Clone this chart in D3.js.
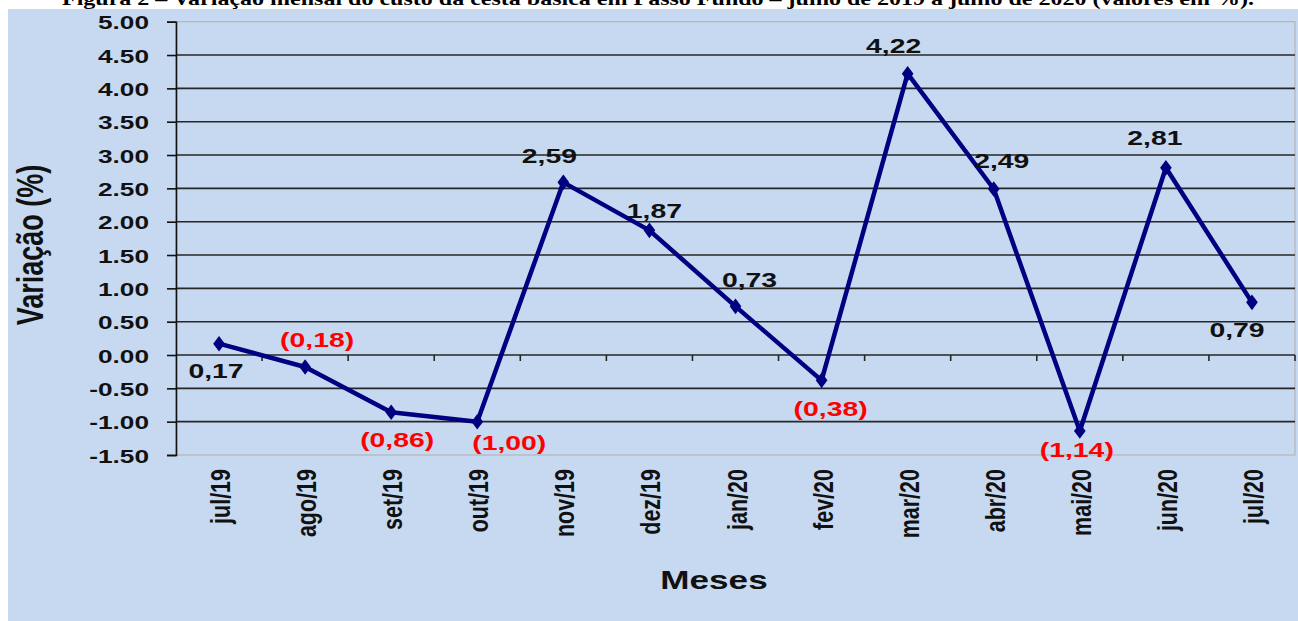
<!DOCTYPE html>
<html>
<head>
<meta charset="utf-8">
<style>
  body { margin: 0; background: #fff; overflow: hidden; }
  svg { display: block; font-family: "Liberation Sans", Arial, sans-serif; }
</style>
<title>Variação mensal</title>
</head>
<body>
<script src="https://cdn.jsdelivr.net/npm/d3@7"></script>
<script>

// dados
var months = ["jul/19","ago/19","set/19","out/19","nov/19","dez/19","jan/20","fev/20","mar/20","abr/20","mai/20","jun/20","jul/20"]
var values = [0.17, -0.18, -0.86, -1.00, 2.59, 1.87, 0.73, -0.38, 4.22, 2.49, -1.14, 2.81, 0.79]
var yTicks = [5.00, 4.50, 4.00, 3.50, 3.00, 2.50, 2.00, 1.50, 1.00, 0.50, 0.00, -0.50, -1.00, -1.50]

// deslocamento dos rótulos (layout, em px relativos ao ponto)
var labelNudge = [[-3,34],[12,-20],[6,35],[32,28],[-14,-19],[5,-12],[14,-19],[9,36],[-14,-21],[8,-21],[-3,26],[-11,-23],[-15,35]]

var W = 1298, H = 621
var plotL = 176, plotR = 1295, plotT = 21.7, plotB = 455
var sx = 1.35   // o original está esticado na horizontal

var svg = d3.select("body").append("svg").attr("width", W).attr("height", H)

// fundo azul
svg.append("rect").attr("x", 8).attr("y", 9).attr("width", W - 8).attr("height", H - 9).attr("fill", "#c6d9f0")

// título cortado no topo
svg.append("text")
  .attr("x", 658).attr("y", 5)
  .attr("text-anchor", "middle")
  .attr("textLength", 1192).attr("lengthAdjust", "spacingAndGlyphs")
  .style("font-family", "'Liberation Serif', 'Times New Roman', serif")
  .style("font-weight", "bold").style("font-size", "18px")
  .text("Figura 2 – Variação mensal do custo da cesta básica em Passo Fundo – julho de 2019 a julho de 2020 (valores em %).")

var x = d3.scaleBand().domain(months).range([plotL, plotR]).padding(0)
var y = d3.scaleLinear().domain([-1.5, 5]).range([plotB, plotT])
var cx = d => x(d) + x.bandwidth() / 2

// borda da área de plotagem
svg.append("rect")
  .attr("x", plotL).attr("y", plotT).attr("width", plotR - plotL).attr("height", plotB - plotT)
  .attr("fill", "none").attr("stroke", "#b4b4b4").attr("stroke-width", 1.2)

// linhas de grade
svg.append("g").selectAll("line")
  .data(yTicks.filter(t => t < 5 && t > -1.5))
  .enter().append("line")
    .attr("x1", plotL).attr("x2", plotR)
    .attr("y1", d => y(d)).attr("y2", d => y(d))
    .attr("stroke", "#262626").attr("stroke-width", 1.6)

// eixo Y
var yAxis = svg.append("g")
  .attr("transform", "translate(" + plotL + ",0)")
  .call(d3.axisLeft(y).tickValues(yTicks).tickSize(9).tickFormat(d => d.toFixed(2)))
yAxis.select(".domain").attr("stroke", "#111").attr("stroke-width", 1.6)
yAxis.selectAll(".tick line").attr("stroke", "#111").attr("stroke-width", 1.6)
yAxis.selectAll(".tick text")
  .attr("x", null).attr("dy", null)
  .attr("transform", "translate(-27,7) scale(1.38,1)")
  .attr("text-anchor", "end")
  .attr("fill", "#111")
  .style("font-size", "19px").style("font-weight", "bold")

// marcas do eixo X (em y = 0, entre categorias)
svg.append("g").selectAll("line")
  .data(months)
  .enter().append("line")
    .attr("x1", d => x(d) + x.bandwidth()).attr("x2", d => x(d) + x.bandwidth())
    .attr("y1", y(0)).attr("y2", y(0) + 6)
    .attr("stroke", "#262626").attr("stroke-width", 1.6)

// rótulos do eixo X
svg.append("g").selectAll("text")
  .data(months)
  .enter().append("text")
    .attr("transform", d => "translate(" + (cx(d) + 11) + ",469) scale(1.3,1) rotate(-90)")
    .attr("text-anchor", "end")
    .attr("fill", "#111")
    .style("font-size", "21.5px").style("font-weight", "bold")
    .text(d => d)

// títulos dos eixos
svg.append("text")
  .attr("transform", "translate(43,245) scale(1.4,1) rotate(-90)")
  .attr("text-anchor", "middle")
  .attr("fill", "#111")
  .style("font-size", "27px").style("font-weight", "bold")
  .text("Variação (%)")

svg.append("text")
  .attr("transform", "translate(714,589) scale(1.35,1)")
  .attr("text-anchor", "middle")
  .attr("fill", "#111")
  .style("font-size", "26px").style("font-weight", "bold")
  .text("Meses")

// série
var pts = months.map((m, i) => ({ m: m, v: values[i], i: i }))

svg.append("path")
  .datum(pts)
  .attr("fill", "none")
  .attr("stroke", "#000080")
  .attr("stroke-width", 4.5)
  .attr("stroke-linejoin", "round")
  .attr("d", d3.line().x(d => cx(d.m)).y(d => y(d.v)))

svg.append("g").selectAll("path")
  .data(pts)
  .enter().append("path")
    .attr("transform", d => "translate(" + cx(d.m) + "," + y(d.v) + ") scale(1.3,1)")
    .attr("d", d3.symbol(d3.symbolDiamond, 70))
    .attr("fill", "#000080")

// rótulos de dados
var fmt = v => {
  var s = Math.abs(v).toFixed(2).replace(".", ",")
  return v < 0 ? "(" + s + ")" : s
}
svg.append("g").selectAll("text")
  .data(pts)
  .enter().append("text")
    .attr("transform", d => "translate(" + (cx(d.m) + labelNudge[d.i][0]) + "," + (y(d.v) + labelNudge[d.i][1]) + ") scale(" + sx + ",1)")
    .attr("text-anchor", "middle")
    .attr("fill", d => d.v < 0 ? "#ff0000" : "#111")
    .style("font-size", "21px").style("font-weight", "bold")
    .text(d => fmt(d.v))

</script>
</body>
</html>
